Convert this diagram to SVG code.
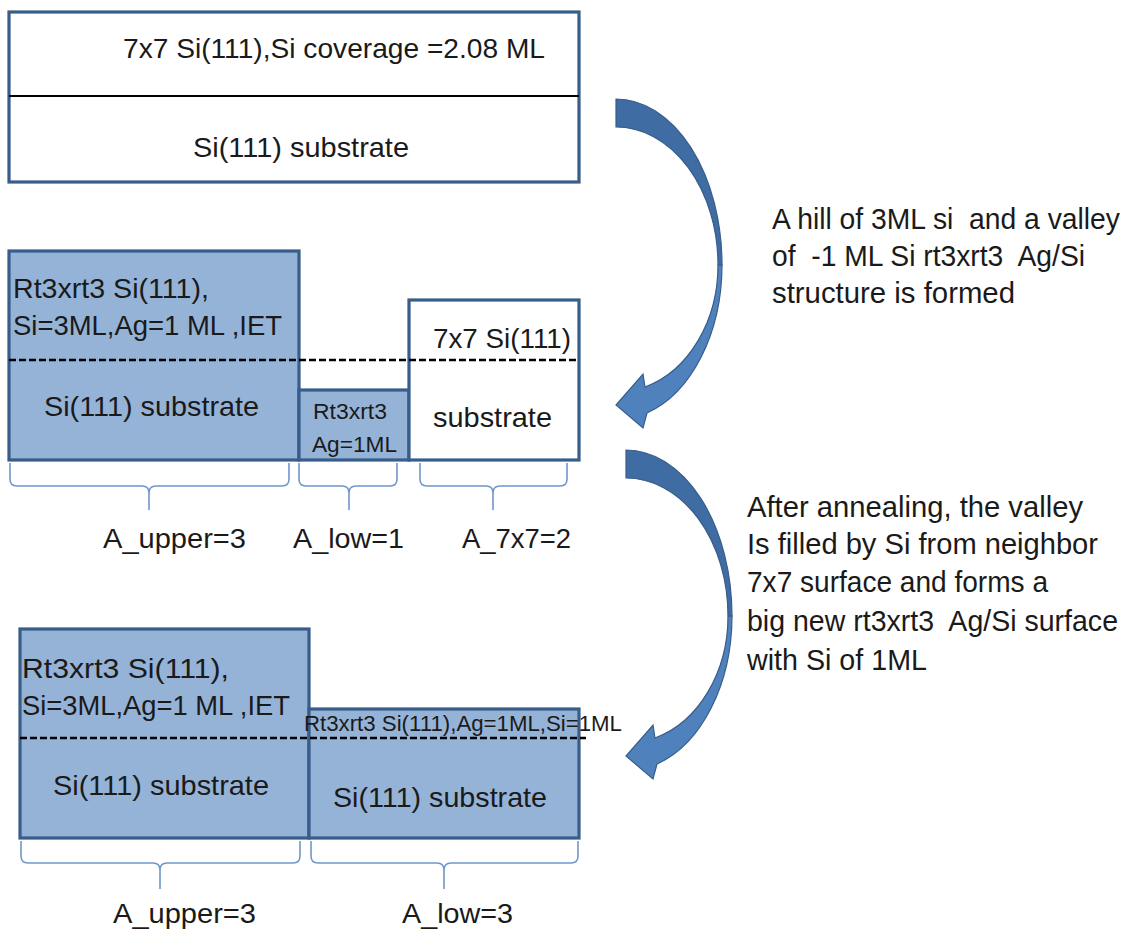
<svg xmlns="http://www.w3.org/2000/svg" width="1129" height="934" viewBox="0 0 1129 934">
<style>
text{font-family:"Liberation Sans",Arial,sans-serif;fill:#1a1a1a;white-space:pre;}
.t28{font-size:28px;}
.t22{font-size:22px;}
.t29{font-size:29px;}
.blue{fill:#95B3D7;stroke:#385D8A;stroke-width:3.2;}
.white{fill:#ffffff;stroke:#385D8A;stroke-width:3.2;}
.dash{stroke:#000;stroke-width:2.4;stroke-dasharray:7,3;fill:none;}
.brace{fill:none;stroke:#6F97CB;stroke-width:1.6;}
.adark{fill:#3E6CA3;stroke:#385D8A;stroke-width:1.2;}
.alight{fill:#4F81BD;stroke:#385D8A;stroke-width:1.2;}
</style>
<defs>
<g id="curvedArrow">
<path class="alight" d="M106,166 A106,155 0 0 1 31,314 L27,329 L0,306 L27,275 L29,288 A102,127 0 0 0 102,166 Z"/>
<path class="adark" d="M0,0 A106,166 0 0 1 106,166 L102,166 A102,138 0 0 0 0,28 Z"/>
</g>
</defs>
<rect width="1129" height="934" fill="#ffffff"/>

<g id="stage1">
<rect class="white" x="9" y="12" width="570" height="170"/>
<line x1="9" y1="96" x2="579" y2="96" stroke="#000" stroke-width="2"/>
<text class="t28" x="123" y="58" textLength="422" lengthAdjust="spacingAndGlyphs">7x7 Si(111),Si coverage =2.08 ML</text>
<text class="t28" x="193" y="157" textLength="216" lengthAdjust="spacingAndGlyphs">Si(111) substrate</text>
</g>

<g id="stage2">
<g id="s2-upper">
<rect class="blue" x="9" y="251" width="290" height="209"/>
<text class="t28" x="13" y="298" textLength="196" lengthAdjust="spacingAndGlyphs">Rt3xrt3 Si(111),</text>
<text class="t28" x="13" y="335" textLength="269" lengthAdjust="spacingAndGlyphs">Si=3ML,Ag=1 ML ,IET</text>
<text class="t28" x="44" y="416" textLength="215" lengthAdjust="spacingAndGlyphs">Si(111) substrate</text>
</g>
<g id="s2-low">
<rect class="blue" x="299" y="390" width="110" height="70"/>
<text class="t22" x="313" y="419" textLength="74" lengthAdjust="spacingAndGlyphs">Rt3xrt3</text>
<text class="t22" x="312" y="452" textLength="85" lengthAdjust="spacingAndGlyphs">Ag=1ML</text>
</g>
<g id="s2-7x7">
<rect class="white" x="409" y="300" width="170" height="160"/>
<text class="t28" x="433" y="348" textLength="138" lengthAdjust="spacingAndGlyphs">7x7 Si(111)</text>
<text class="t28" x="433" y="427" textLength="119" lengthAdjust="spacingAndGlyphs">substrate</text>
</g>
<line class="dash" x1="9" y1="360" x2="579" y2="360"/>
<g id="s2-braces">
<path class="brace" d="M10,463 L10,479 Q10,486 17,486 L142,486 Q149,486 149,493 L149,510 M149,493 Q149,486 156,486 L282,486 Q289,486 289,479 L289,463"/>
<path class="brace" d="M299,463 L299,479 Q299,486 306,486 L342,486 Q349,486 349,493 L349,510 M349,493 Q349,486 356,486 L390,486 Q397,486 397,479 L397,463"/>
<path class="brace" d="M420,463 L420,479 Q420,486 427,486 L486,486 Q493,486 493,493 L493,510 M493,493 Q493,486 500,486 L560,486 Q567,486 567,479 L567,463"/>
</g>
<text class="t28" x="103" y="548" textLength="143" lengthAdjust="spacingAndGlyphs">A_upper=3</text>
<text class="t28" x="293" y="548" textLength="111" lengthAdjust="spacingAndGlyphs">A_low=1</text>
<text class="t28" x="462" y="548" textLength="109" lengthAdjust="spacingAndGlyphs">A_7x7=2</text>
</g>

<g id="stage3">
<g id="s3-upper">
<rect class="blue" x="20" y="629" width="289" height="209"/>
<text class="t28" x="22" y="678" textLength="207" lengthAdjust="spacingAndGlyphs">Rt3xrt3 Si(111),</text>
<text class="t28" x="22" y="715" textLength="268" lengthAdjust="spacingAndGlyphs">Si=3ML,Ag=1 ML ,IET</text>
<text class="t28" x="53" y="795" textLength="216" lengthAdjust="spacingAndGlyphs">Si(111) substrate</text>
</g>
<g id="s3-low">
<rect class="blue" x="309" y="709" width="270" height="129"/>
<text class="t22" x="304" y="731" textLength="318" lengthAdjust="spacingAndGlyphs">Rt3xrt3 Si(111),Ag=1ML,Si=1ML</text>
<text class="t28" x="333" y="807" textLength="214" lengthAdjust="spacingAndGlyphs">Si(111) substrate</text>
</g>
<line class="dash" x1="20" y1="738" x2="586" y2="738"/>
<g id="s3-braces">
<path class="brace" d="M21,841 L21,856 Q21,863 28,863 L153,863 Q160,863 160,870 L160,889 M160,870 Q160,863 167,863 L293,863 Q300,863 300,856 L300,841"/>
<path class="brace" d="M311,841 L311,856 Q311,863 318,863 L437,863 Q444,863 444,870 L444,889 M444,870 Q444,863 451,863 L571,863 Q578,863 578,856 L578,841"/>
</g>
<text class="t28" x="113" y="923" textLength="143" lengthAdjust="spacingAndGlyphs">A_upper=3</text>
<text class="t28" x="402" y="923" textLength="111" lengthAdjust="spacingAndGlyphs">A_low=3</text>
</g>

<g id="connectors">
<use href="#curvedArrow" transform="translate(616,99)"/>
<use href="#curvedArrow" transform="translate(626,450)"/>
</g>

<g id="note1">
<text class="t29" x="772" y="229" textLength="348" lengthAdjust="spacingAndGlyphs">A hill of 3ML si  and a valley</text>
<text class="t29" x="772" y="266" textLength="313" lengthAdjust="spacingAndGlyphs">of  -1 ML Si rt3xrt3  Ag/Si</text>
<text class="t29" x="772" y="303" textLength="243" lengthAdjust="spacingAndGlyphs">structure is formed</text>
</g>
<g id="note2">
<text class="t29" x="747" y="517" textLength="336" lengthAdjust="spacingAndGlyphs">After annealing, the valley</text>
<text class="t29" x="747" y="554" textLength="351" lengthAdjust="spacingAndGlyphs">Is filled by Si from neighbor</text>
<text class="t29" x="747" y="592" textLength="301" lengthAdjust="spacingAndGlyphs">7x7 surface and forms a</text>
<text class="t29" x="747" y="631" textLength="371" lengthAdjust="spacingAndGlyphs">big new rt3xrt3  Ag/Si surface</text>
<text class="t29" x="747" y="670" textLength="180" lengthAdjust="spacingAndGlyphs">with Si of 1ML</text>
</g>
</svg>
